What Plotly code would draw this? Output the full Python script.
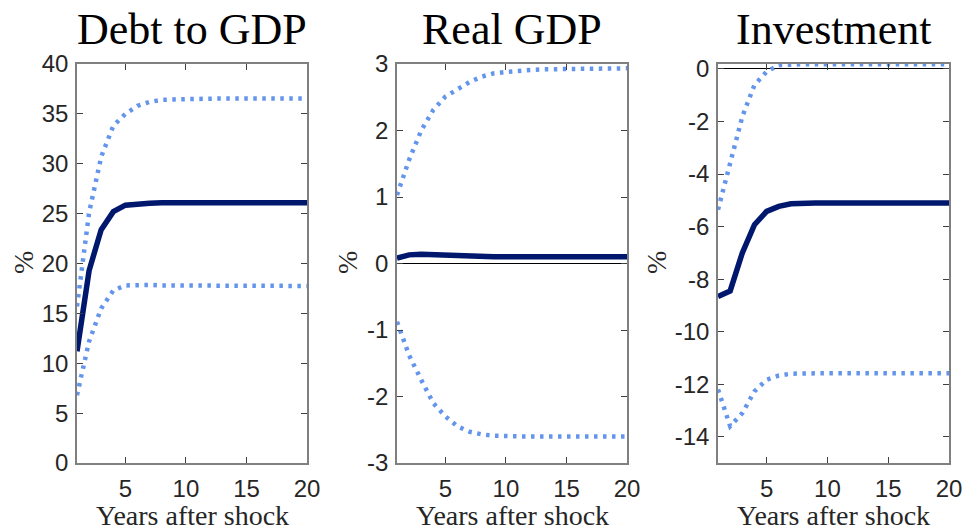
import plotly.graph_objects as go

years = list(range(1, 21))

titles = ["Debt to GDP", "Real GDP", "Investment"]
x_label = "Years after shock"
y_label = "%"

debt_median = [11.2, 19.3, 23.4, 25.2, 25.85, 26.0, 26.05, 26.08, 26.1, 26.1,
               26.1, 26.1, 26.1, 26.1, 26.1, 26.1, 26.1, 26.1, 26.1, 26.1]
debt_upper = [15.7, 25.1, 30.7, 33.8, 35.0, 35.8, 36.2, 36.4, 36.45, 36.5,
              36.5, 36.52, 36.55, 36.55, 36.55, 36.55, 36.55, 36.55, 36.55, 36.55]
debt_lower = [6.8, 12.2, 15.5, 17.3, 17.8, 17.85, 17.85, 17.8, 17.8, 17.8,
              17.78, 17.78, 17.75, 17.75, 17.75, 17.75, 17.75, 17.75, 17.75, 17.75]

gdp_median = [0.08, 0.13, 0.14, 0.13, 0.12, 0.11, 0.105, 0.10, 0.10, 0.10,
              0.10, 0.10, 0.10, 0.10, 0.10, 0.10, 0.10, 0.10, 0.10, 0.10]
gdp_upper = [1.03, 1.56, 2.0, 2.31, 2.51, 2.63, 2.73, 2.81, 2.86, 2.88,
             2.90, 2.91, 2.92, 2.92, 2.93, 2.93, 2.93, 2.935, 2.935, 2.935]
gdp_lower = [-0.875, -1.38, -1.75, -2.10, -2.30, -2.45, -2.53, -2.57, -2.59, -2.60,
             -2.60, -2.60, -2.60, -2.60, -2.60, -2.60, -2.60, -2.60, -2.60, -2.60]

inv_median = [-8.66, -8.45, -7.0, -5.93, -5.42, -5.23, -5.13, -5.1, -5.1, -5.1,
              -5.1, -5.1, -5.1, -5.1, -5.1, -5.1, -5.1, -5.1, -5.1, -5.1]
inv_upper = [-5.36, -3.59, -1.81, -0.61, -0.10, 0.15, 0.18, 0.18, 0.18, 0.18,
             0.18, 0.18, 0.18, 0.18, 0.18, 0.18, 0.18, 0.18, 0.18, 0.18]
inv_lower = [-12.2, -13.6, -13.1, -12.27, -11.83, -11.67, -11.6, -11.58, -11.58, -11.58,
             -11.58, -11.58, -11.58, -11.58, -11.58, -11.58, -11.58, -11.58, -11.58, -11.58]

x_ticks = [5, 10, 15, 20]
debt_ticks = [0, 5, 10, 15, 20, 25, 30, 35, 40]
gdp_ticks = [-3, -2, -1, 0, 1, 2, 3]
inv_ticks = [-14, -12, -10, -8, -6, -4, -2, 0]

panels = [
    (debt_median, debt_upper, debt_lower, [0, 40], debt_ticks),
    (gdp_median, gdp_upper, gdp_lower, [-3, 3], gdp_ticks),
    (inv_median, inv_upper, inv_lower, [-15, 0.19], inv_ticks),
]

W, H = 964, 527
x_px = [(77, 307), (397, 627), (718, 949)]
y_top, y_bot = 64, 463
ylab_x = [23, 347, 656]

SOLID = "#00176e"
DOT = "#6495ED"
AX = "#808080"
TXT = "#262626"
SERIF = "Liberation Serif, Times New Roman, serif"
SANS = "Liberation Sans, Arial, sans-serif"

fig = go.Figure()
annotations = []
for i, (med, up, lo, yr, yt) in enumerate(panels):
    n = "" if i == 0 else str(i + 1)
    xa, ya = "x" + n, "y" + n
    for series, color, dash, w in [(up, DOT, "3.5px,5.5px", 4.5), (lo, DOT, "3.5px,5.5px", 4.5),
                                   (med, SOLID, "solid", 5.5)]:
        fig.add_trace(go.Scatter(x=years, y=series, mode="lines", xaxis=xa, yaxis=ya,
                                 line=dict(color=color, width=w, dash=dash),
                                 showlegend=False, hoverinfo="skip"))
    common = dict(showline=True, linecolor=AX, linewidth=1.5, mirror="ticks",
                  ticks="inside", ticklen=6, tickwidth=1.2, tickcolor="#404040",
                  showgrid=False, automargin=False,
                  tickfont=dict(family=SANS, size=24, color=TXT))
    fig.update_layout(**{
        "xaxis" + n: dict(domain=[x_px[i][0] / W, x_px[i][1] / W], range=[1, 20],
                          tickvals=x_ticks, ticktext=[str(v) for v in x_ticks],
                          zeroline=False, anchor=ya, ticklabelstandoff=3, **common),
        "yaxis" + n: dict(domain=[1 - y_bot / H, 1 - y_top / H], range=yr, tickvals=yt,
                          ticktext=[str(v) for v in yt],
                          zeroline=True, zerolinecolor="black", zerolinewidth=1,
                          anchor=xa, ticklabelstandoff=2, **common),
    })
    cx = (x_px[i][0] + x_px[i][1]) / 2 / W
    annotations.append(dict(text=titles[i], x=cx, y=1 - 30 / H, xref="paper", yref="paper",
                            showarrow=False, xanchor="center", yanchor="middle",
                            font=dict(family=SERIF, size=44, color="black")))
    annotations.append(dict(text=x_label, x=cx, y=1 - 515 / H, xref="paper", yref="paper",
                            showarrow=False, xanchor="center", yanchor="middle",
                            font=dict(family=SERIF, size=28, color=TXT)))
    annotations.append(dict(text=y_label, x=ylab_x[i] / W, y=1 - 263 / H, xref="paper", yref="paper",
                            showarrow=False, xanchor="center", yanchor="middle", textangle=-90,
                            font=dict(family=SERIF, size=28, color=TXT)))

fig.update_layout(width=W, height=H, margin=dict(l=0, r=0, t=0, b=0),
                  paper_bgcolor="white", plot_bgcolor="white", annotations=annotations)
fig.write_html("out.html", config={"displayModeBar": False},
               post_script="document.body.style.margin='0';document.body.style.overflow='hidden';")
